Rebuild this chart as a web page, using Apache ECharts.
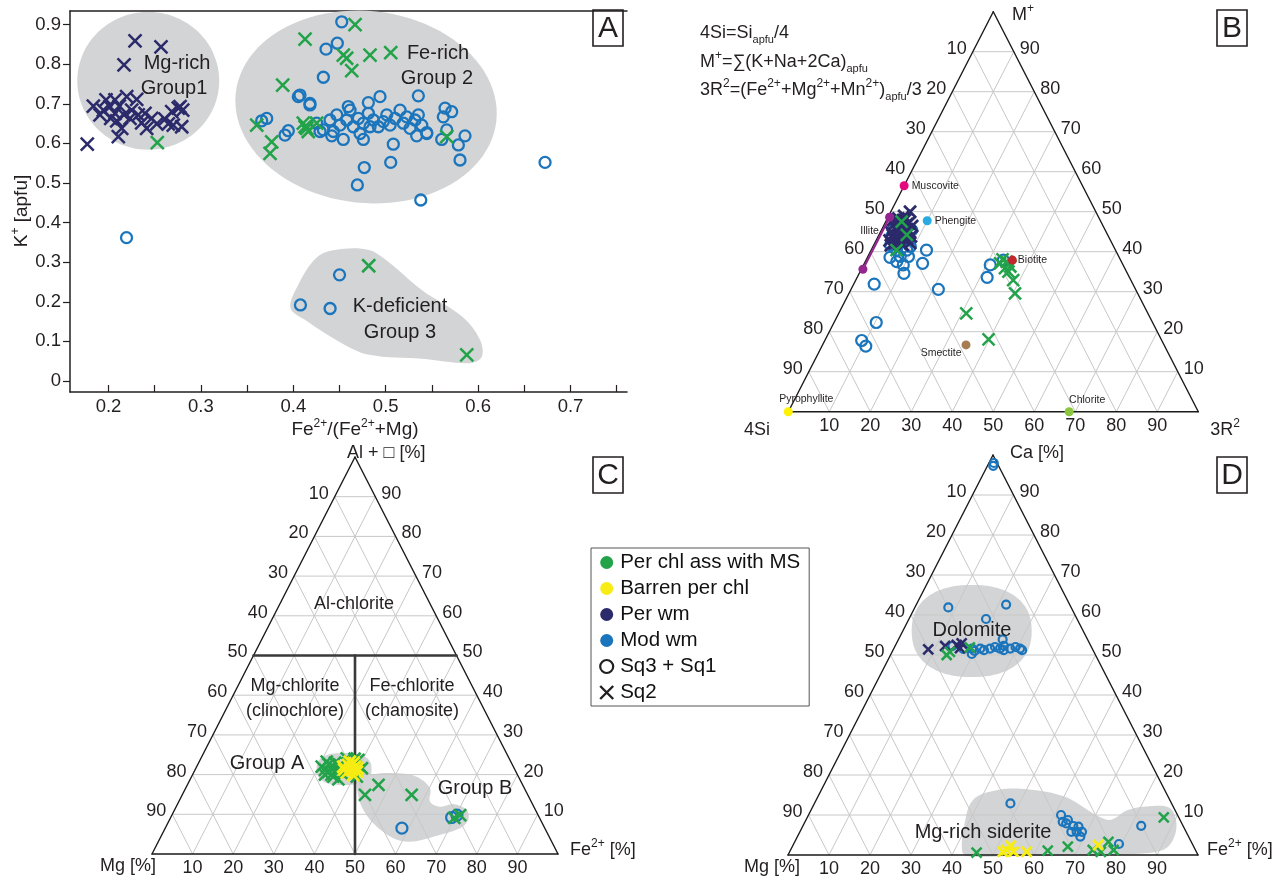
<!DOCTYPE html>
<html>
<head>
<meta charset="utf-8">
<script src="https://cdn.jsdelivr.net/npm/echarts@6/dist/echarts.min.js"></script>
<style>
  html, body { margin: 0; padding: 0; background: #ffffff; }
  #chart { width: 1279px; height: 881px; }
</style>
</head>
<body>
<div id="chart"></div>
<script>
// ---------------- Panel A: K+ [apfu] vs Fe2+/(Fe2+ + Mg) ----------------
const aXTicks  = [0.2, 0.25, 0.3, 0.35, 0.4, 0.45, 0.5, 0.55, 0.6, 0.65, 0.7, 0.75];
const aXLabels = [0.2, 0.3, 0.4, 0.5, 0.6, 0.7];
const aYTicks  = [0, 0.1, 0.2, 0.3, 0.4, 0.5, 0.6, 0.7, 0.8, 0.9];

// Per wm, Sq2
const aPerWmSq2 = [
  [0.2287,0.859],[0.2568,0.844],[0.2168,0.798],[0.177,0.598],[0.1836,0.694],[0.1908,0.672],
  [0.1973,0.710],[0.2016,0.693],[0.207,0.676],[0.2117,0.694],[0.2197,0.718],[0.2089,0.657],
  [0.2143,0.638],[0.2106,0.617],[0.2251,0.684],[0.2305,0.711],[0.2359,0.652],[0.2395,0.676],
  [0.2413,0.638],[0.2522,0.649],[0.2611,0.661],[0.2684,0.680],[0.2755,0.689],[0.2803,0.684],
  [0.2701,0.646],[0.2792,0.642],[0.1944,0.684],[0.2024,0.663],[0.207,0.710],[0.2168,0.672],
  [0.2467,0.663],[0.2647,0.649],[0.2233,0.663],[0.2322,0.672],[0.2774,0.693]
];
// Per chl ass with MS, Sq2
const aChlMsSq2 = [
  [0.2528,0.602],[0.4668,0.900],[0.4127,0.863],[0.4541,0.823],[0.4577,0.815],[0.483,0.823],
  [0.5054,0.829],[0.4632,0.784],[0.566,0.617],[0.3885,0.747],[0.3604,0.646],[0.3766,0.604],
  [0.3748,0.575],[0.4127,0.642],[0.4162,0.630],[0.4108,0.651],[0.4145,0.638],[0.4253,0.651],
  [0.4816,0.291],[0.5877,0.066]
];
// Mod wm, Sq3 + Sq1
const aModWmSq13 = [
  [0.4524,0.907],[0.4354,0.838],[0.4476,0.853],[0.4325,0.767],[0.5353,0.720],[0.4938,0.718],
  [0.4812,0.703],[0.418,0.701],[0.4072,0.722],[0.4595,0.693],[0.5642,0.689],[0.5714,0.680],
  [0.5623,0.667],[0.5155,0.684],[0.5353,0.672],[0.5858,0.619],[0.5786,0.596],[0.5804,0.558],
  [0.5606,0.610],[0.566,0.634],[0.5444,0.627],[0.5335,0.619],[0.5082,0.598],[0.5054,0.552],
  [0.4768,0.539],[0.4693,0.495],[0.5379,0.457],[0.6724,0.552],[0.4758,0.610],[0.4541,0.610],
  [0.4416,0.619],[0.4253,0.651],[0.4325,0.634],[0.4397,0.659],[0.447,0.672],[0.4505,0.646],
  [0.4578,0.659],[0.4649,0.642],[0.4704,0.663],[0.4758,0.651],[0.4812,0.676],[0.4866,0.659],
  [0.492,0.642],[0.4974,0.655],[0.5047,0.646],[0.5101,0.663],[0.519,0.651],[0.5263,0.638],
  [0.5317,0.659],[0.539,0.646],[0.5444,0.625],[0.4289,0.630],[0.4433,0.630],[0.4722,0.625],
  [0.4614,0.684],[0.483,0.642],[0.5011,0.672],[0.5227,0.667],[0.3712,0.663],[0.3658,0.657],
  [0.4054,0.718],[0.418,0.697],[0.3946,0.632],[0.391,0.621],
  [0.2195,0.362],[0.450,0.268],[0.4077,0.192],[0.4398,0.183]
];
// Group fields: ellipse = [cx, cy, rx, ry] in axis units; outline = polygon in axis units
const aGroup1Ellipse = [0.243, 0.758, 0.0768, 0.174];
const aGroup2Ellipse = [0.4787, 0.692, 0.1418, 0.2424];
const aGroup3Outline = [
  [0.397,0.184],[0.404,0.237],[0.426,0.313],[0.452,0.333],[0.482,0.331],[0.500,0.306],
  [0.539,0.230],[0.583,0.162],[0.602,0.104],[0.604,0.061],[0.591,0.045],[0.539,0.056],
  [0.482,0.066],[0.452,0.096],[0.413,0.154]
];

// ---------------- Ternary panels: points are [right-vertex %, top-vertex %] ----------------
const ternTicks = [10, 20, 30, 40, 50, 60, 70, 80, 90];

// Panel B: 4Si - M+ - 3R2   ([3R2 %, M+ %])
const bModWmSq13 = [
  [3.3,43.8],[4.1,41.7],[5.5,38.6],[7.7,37.5],[9.7,36.7],[10.9,34.6],[9.9,38.8],[9.1,41.3],
  [7.4,45.4],[13.5,40.4],[14.2,37.1],[5.0,31.9],[21.3,30.6],[10.3,22.3],[9.0,17.8],[10.7,16.4],
  [30.9,36.7],[31.7,33.6],[33.5,37.9],[6.2,40.4],[7.9,38.8],[6.6,42.9],[8.7,40.4],[2.9,45.4]
];
const bPerWmSq2 = [
  [1.6,47.9],[3.5,47.4],[5.5,46.9],[3.1,45.9],[5.3,45.4],[7.2,44.9],[3.4,44.2],[5.4,43.7],
  [7.4,43.2],[4.9,42.2],[7.1,41.7],[8.6,42.2],[3.6,46.4],[6.3,44.4],[5.0,42.9],[7.0,46.4],
  [4.7,50.0],[3.8,48.9],[2.4,46.8],[4.4,46.1],[6.2,45.6],[2.6,44.9],[4.4,44.9],[6.4,43.3],
  [4.0,43.4],[6.1,42.3],[3.3,42.8],[5.9,47.3],[4.5,47.9],[2.7,48.3],[8.0,43.8],[4.2,41.6]
];
const bChlMsSq2 = [
  [6.2,40.4],[6.8,44.2],[3.9,47.5],[33.1,37.1],[34.9,35.9],[36.2,35.0],[38.4,32.9],[40.5,29.6],
  [36.0,36.3],[33.2,38.1],[34.5,37.5],[31.1,24.6],[39.8,18.1]
];
const bMineralNames  = ['Muscovite', 'Phengite', 'Biotite', 'Smectite', 'Pyrophyllite', 'Chlorite'];
const bMineralValues = [[0,56.5],[10.0,47.75],[35.7,37.9],[35.0,16.7],[0,0],[68.5,0]];
const bIlliteRange   = [[0.4,48.6],[0.4,35.6]];

// Panel C: Mg - Al+vacancy - Fe2+   ([Fe2+ %, Al %])
const cChlMsSq2 = [
  [30.8,22.0],[31.4,23.25],[33.1,20.7],[33.3,22.0],[34.9,19.5],[34.9,21.2],[35.1,22.4],[36.6,20.3],
  [35.9,24.1],[39.0,23.7],[40.9,21.6],[40.7,19.5],[32.0,21.2],[33.6,23.0],[36.5,18.8],
  [32.2,22.6],[34.0,21.6],[35.6,20.9],[34.2,20.0],[36.8,22.8],[32.6,20.0],[37.9,24.0],
  [45.0,14.9],[47.1,17.4],[56.5,14.9],[71.0,9.8],[69.9,9.1]
];
const cBarrenSq2 = [
  [36.1,22.0],[37.1,22.4],[38.6,21.2],[39.0,22.0],[37.7,20.5],[40.1,20.7],[37.1,23.25],[39.6,19.9],
  [38.2,22.9],[36.7,21.3],[39.8,21.6]
];
const cModWmSq13 = [[58.3,6.5],[69.2,9.2],[70.2,9.8]];
const cGroupAEllipse = [36.6, 21.4, 0.0677, 0.0403];
const cGroupBOutline = [
  [41.5,18.64],[44.46,20.08],[50.1,20.33],[55.47,19.47],[60.2,16.55],[61.9,13.17],[65.0,11.91],
  [67.9,12.59],[71.97,11.08],[73.6,8.56],[72.63,6.47],[67.1,4.36],[62.0,3.1],[57.46,3.95],
  [50.64,7.73],[45.7,11.91],[42.5,16.12]
];

// Panel D: Mg - Ca - Fe2+   ([Fe2+ %, Ca %])
const dModWmSq13 = [
  [1.4,97.3],[1.2,98.0],
  [8.15,61.9],[21.9,62.6],[18.8,59.0],[25.4,53.9],[19.1,51.6],[21.1,51.6],[23.5,51.6],[25.9,51.6],
  [28.4,51.6],[30.8,51.6],[14.0,52.25],[19.7,50.25],[20.0,51.0],[22.2,51.2],[24.5,52.0],[27.0,51.2],
  [29.5,52.0],[31.5,51.2],[26.5,52.3],[17.0,51.5],
  [47.8,12.9],[61.6,10.0],[62.85,8.3],[63.9,8.75],[65.96,7.25],[67.5,5.8],[69.0,4.6],[67.3,7.1],
  [66.2,5.8],[68.8,5.8],[63.9,7.9],[79.35,2.75],[82.5,7.3]
];
const dPerWmSq2 = [[8.5,51.4],[12.2,52.25],[14.9,52.5],[16.1,51.7],[15.9,52.9]];
const dChlMsSq2 = [
  [13.7,50.0],[18.4,51.9],[14.1,50.8],
  [45.7,0.6],[62.8,1.1],[67.2,2.1],[73.7,1.25],[75.9,0.8],[76.5,3.3],[78.8,1.25],[86.95,9.4]
];
const dBarrenSq2 = [[52.6,1.25],[53.2,2.3],[52.0,0.8],[57.8,0.8],[74.4,2.5],[54.6,0.8]];
const dDolomiteEllipse = [16.8, 56.0, 0.1463, 0.115];
const dSideriteOutline = [
  [42.1,0.8],[39.4,7.08],[38.24,13.75],[43.0,16.25],[50.66,16.4],[60.14,14.6],[70.17,10.0],
  [74.24,8.75],[77.27,11.25],[82.78,12.25],[87.36,11.68],[90.78,7.93],[92.02,3.75],[90.83,1.25],
  [84.5,0.25],[68.3,-0.2],[54.56,-0.3],[44.24,-0.3]
];

const legendNames = ['Per chl ass with MS', 'Barren per chl', 'Per wm', 'Mod wm', 'Sq3 + Sq1', 'Sq2'];

// ---------------- styling ----------------
const FONT = '"Liberation Sans", Arial, "DejaVu Sans", sans-serif';
const INK = '#231f20';
const COL = {
  chlMs: '#22a34a', barren: '#f7ec13', perWm: '#2b2a6b', modWm: '#1b75bc',
  blob: '#d3d4d5', grid: '#c8c8c8', edge: '#1a1a1a', divider: '#3a3a3a'
};
const MINERAL_COLORS = ['#e5097f', '#29abe2', '#c1272d', '#a67c52', '#fff200', '#8cc63f'];
const CROSS = 'path://M0,0L10,10M10,0L0,10';
const AX = { A: {x: 0, y: 0}, B: {x: 2, y: 1}, C: {x: 3, y: 2}, D: {x: 4, y: 3} };

// ternary composition -> plane of the hidden unit axes
function tern(p) { const r = p[0] / 100, t = p[1] / 100; return [r + t / 2, t]; }
const ident = p => p;

function segSeries(ax, segs, stroke, width, z) {
  return {
    type: 'custom', xAxisIndex: ax.x, yAxisIndex: ax.y, silent: true, z: z, clip: false,
    data: segs,
    renderItem: (params, api) => {
      const a = api.coord([api.value(0), api.value(1)]);
      const b = api.coord([api.value(2), api.value(3)]);
      return { type: 'line', shape: { x1: a[0], y1: a[1], x2: b[0], y2: b[1] },
               style: { stroke: stroke, lineWidth: width, lineCap: 'round' } };
    }
  };
}

function textSeries(ax, points, texts, dx, dy, size) {
  return {
    type: 'custom', xAxisIndex: ax.x, yAxisIndex: ax.y, silent: true, z: 4, clip: false,
    data: points,
    renderItem: (params, api) => {
      const p = api.coord([api.value(0), api.value(1)]);
      return { type: 'text', x: p[0] + dx, y: p[1] + dy,
               style: { text: String(texts[params.dataIndex]), fill: INK, fontSize: size,
                        fontFamily: FONT, align: 'center', verticalAlign: 'middle' } };
    }
  };
}

function ternFrame(ax) {
  const grid = [];
  ternTicks.forEach(v => {
    grid.push([...tern([0, v]), ...tern([100 - v, v])]);
    grid.push([...tern([v, 0]), ...tern([v, 100 - v])]);
    grid.push([...tern([100 - v, 0]), ...tern([0, 100 - v])]);
  });
  const edges = [
    [...tern([0, 0]), ...tern([100, 0])],
    [...tern([100, 0]), ...tern([0, 100])],
    [...tern([0, 100]), ...tern([0, 0])]
  ];
  return [
    segSeries(ax, grid, COL.grid, 1, 2),
    segSeries(ax, edges, COL.edge, 1.4, 3),
    textSeries(ax, ternTicks.map(v => tern([0, 100 - v])), ternTicks, -16, -3, 18),
    textSeries(ax, ternTicks.map(v => tern([100 - v, v])), ternTicks, 16, -3, 18),
    textSeries(ax, ternTicks.map(v => tern([v, 0])), ternTicks, 0, 14, 18)
  ];
}

function outlineSeries(ax, outline, toPlane, smooth) {
  return {
    type: 'custom', xAxisIndex: ax.x, yAxisIndex: ax.y, silent: true, z: 1, clip: false,
    data: [toPlane(outline[0])],
    renderItem: (params, api) => ({
      type: 'polygon',
      shape: { points: outline.map(p => api.coord(toPlane(p))), smooth: smooth },
      style: { fill: COL.blob }
    })
  };
}

function ellipseSeries(ax, e, toPlane, rotDeg, power) {
  return {
    type: 'custom', xAxisIndex: ax.x, yAxisIndex: ax.y, silent: true, z: 1, clip: false,
    data: [toPlane([e[0], e[1]])],
    renderItem: (params, api) => {
      const c = api.coord(toPlane([e[0], e[1]]));
      const s = api.size([e[2], e[3]]);
      const th = rotDeg * Math.PI / 180, pts = [];
      for (let i = 0; i < 96; i++) {
        const f = i / 96 * 2 * Math.PI;
        const cf = Math.cos(f), sf = Math.sin(f);
        const ex = s[0] * Math.sign(cf) * Math.pow(Math.abs(cf), 2 / power);
        const ey = s[1] * Math.sign(sf) * Math.pow(Math.abs(sf), 2 / power);
        pts.push([c[0] + ex * Math.cos(th) - ey * Math.sin(th), c[1] + ex * Math.sin(th) + ey * Math.cos(th)]);
      }
      return { type: 'polygon', shape: { points: pts }, style: { fill: COL.blob } };
    }
  };
}

function marks(ax, name, data, toPlane, kind, color, size, lw, z) {
  return {
    type: 'scatter', name: name, xAxisIndex: ax.x, yAxisIndex: ax.y, silent: true, z: z || 5,
    data: data.map(toPlane),
    symbol: kind === 'x' ? CROSS : 'circle',
    symbolSize: size,
    itemStyle: { color: 'rgba(0,0,0,0)', borderColor: color, borderWidth: lw, opacity: 1 },
    emphasis: { disabled: true }
  };
}

// ---------------- text helpers (graphic) ----------------
const rich = {
  sup: { fontSize: 12, fontFamily: FONT, fill: INK, lineHeight: 12, verticalAlign: 'top' },
  sub: { fontSize: 11, fontFamily: FONT, fill: INK, lineHeight: 10, verticalAlign: 'bottom' }
};
function label(text, x, y, size, align, rot) {
  return {
    type: 'text', x: x, y: y, rotation: rot || 0, silent: true, z: 10,
    style: { text: text, fill: INK, fontSize: size, fontFamily: FONT, lineHeight: 24,
             align: align || 'center', verticalAlign: 'middle', rich: rich }
  };
}
function letterBox(ch, x, y) {
  return {
    type: 'group', x: x, y: y, silent: true, z: 10,
    children: [
      { type: 'rect', shape: { x: 0, y: 0, width: 30, height: 36 },
        style: { fill: '#ffffff', stroke: INK, lineWidth: 1.6 } },
      { type: 'text', x: 15, y: 19,
        style: { text: ch, fill: INK, fontSize: 30, fontFamily: FONT, align: 'center', verticalAlign: 'middle' } }
    ]
  };
}

// ---------------- assemble ----------------
const series = [];

// Panel A
series.push(ellipseSeries(AX.A, aGroup1Ellipse, ident, 0, 2));
series.push(ellipseSeries(AX.A, aGroup2Ellipse, ident, 6, 2));
series.push(outlineSeries(AX.A, aGroup3Outline, ident, 0.35));
series.push(marks(AX.A, 'A Mod wm Sq3+Sq1', aModWmSq13, ident, 'o', COL.modWm, 11, 2.3));
series.push(marks(AX.A, 'A Per wm Sq2', aPerWmSq2, ident, 'x', COL.perWm, 13, 2.5));
series.push(marks(AX.A, 'A Per chl MS Sq2', aChlMsSq2, ident, 'x', COL.chlMs, 13, 2.5));

// Panel B
series.push(...ternFrame(AX.B));
series.push(marks(AX.B, 'B Mod wm Sq3+Sq1', bModWmSq13, tern, 'o', COL.modWm, 11, 2.2));
series.push(marks(AX.B, 'B Per wm Sq2', bPerWmSq2, tern, 'x', COL.perWm, 12, 2.8));
series.push(marks(AX.B, 'B Per chl MS Sq2', bChlMsSq2, tern, 'x', COL.chlMs, 12, 2.5));
series.push({
  type: 'line', xAxisIndex: AX.B.x, yAxisIndex: AX.B.y, silent: true, z: 6,
  data: bIlliteRange.map(tern), symbol: 'circle', symbolSize: 9,
  lineStyle: { color: '#93278f', width: 2.2 }, itemStyle: { color: '#93278f', opacity: 1 },
  label: { show: false }
});
const mineralLabel = [
  { position: 'right', distance: 3 },
  { position: 'right', distance: 3 },
  { position: 'right', distance: 1 },
  { position: 'left', distance: 0, offset: [0, 8] },
  { position: 'top', distance: 3, offset: [18, 0] },
  { position: 'top', distance: 2, offset: [18, 0] }
];
series.push({
  type: 'scatter', xAxisIndex: AX.B.x, yAxisIndex: AX.B.y, silent: true, z: 7,
  symbol: 'circle', symbolSize: 9,
  data: bMineralValues.map((v, i) => ({
    value: tern(v), name: bMineralNames[i],
    itemStyle: { color: MINERAL_COLORS[i], opacity: 1 },
    label: Object.assign({ show: true, formatter: '{b}', color: INK, fontSize: 10.5, fontFamily: FONT }, mineralLabel[i])
  }))
});
series.push(textSeries(AX.B, [tern(bIlliteRange[0])], ['Illite'], -20, 14, 10.5));

// Panel C
series.push(ellipseSeries(AX.C, cGroupAEllipse, tern, 0, 2.6));
series.push(outlineSeries(AX.C, cGroupBOutline, tern, 0.35));
series.push(...ternFrame(AX.C));
series.push(segSeries(AX.C, [[...tern([0, 50]), ...tern([50, 50])], [...tern([50, 0]), ...tern([25, 50])]], COL.divider, 2.6, 3));
series.push(marks(AX.C, 'C Mod wm Sq3+Sq1', cModWmSq13, tern, 'o', COL.modWm, 11, 2.2));
series.push(marks(AX.C, 'C Per chl MS Sq2', cChlMsSq2, tern, 'x', COL.chlMs, 12, 2.6));
series.push(marks(AX.C, 'C Barren Sq2', cBarrenSq2, tern, 'x', COL.barren, 12, 2.8));

// Panel D
series.push(ellipseSeries(AX.D, dDolomiteEllipse, tern, 0, 2.3));
series.push(outlineSeries(AX.D, dSideriteOutline, tern, 0.35));
series.push(...ternFrame(AX.D));
series.push(marks(AX.D, 'D Mod wm Sq3+Sq1', dModWmSq13, tern, 'o', COL.modWm, 8, 2.2));
series.push(marks(AX.D, 'D Per wm Sq2', dPerWmSq2, tern, 'x', COL.perWm, 10, 2.6));
series.push(marks(AX.D, 'D Per chl MS Sq2', dChlMsSq2, tern, 'x', COL.chlMs, 10, 2.5));
series.push(marks(AX.D, 'D Barren Sq2', dBarrenSq2, tern, 'x', COL.barren, 10, 2.8));

// legend entries
legendNames.forEach(n => series.push({ type: 'scatter', name: n, data: [], xAxisIndex: 0, yAxisIndex: 0, itemStyle: { opacity: 1 } }));

const hiddenAxis = gi => ({ gridIndex: gi, type: 'value', min: 0, max: 1, show: false });

const option = {
  animation: false,
  backgroundColor: '#ffffff',
  textStyle: { fontFamily: FONT },
  grid: [
    { left: 70, top: 11, width: 557, height: 381, outerBoundsMode: 'none' },
    { left: 788.3, top: 11.7, width: 410, height: 400, outerBoundsMode: 'none' },
    { left: 152, top: 457, width: 406, height: 397, outerBoundsMode: 'none' },
    { left: 788, top: 455, width: 410, height: 400, outerBoundsMode: 'none' }
  ],
  xAxis: [
    {
      gridIndex: 0, type: 'value', min: 0.15833, max: 0.7611,
      axisLine: { show: true, onZero: false, lineStyle: { color: INK, width: 1.5 } },
      axisTick: { show: true, inside: true, length: 7, customValues: aXTicks, lineStyle: { color: INK, width: 1.2 } },
      axisLabel: { customValues: aXLabels, formatter: v => v.toFixed(1), color: INK, fontSize: 18.5, fontFamily: FONT, margin: 5 },
      splitLine: { show: false }
    },
    {
      gridIndex: 0, type: 'value', position: 'top', min: 0.15833, max: 0.7611,
      axisLine: { show: true, onZero: false, lineStyle: { color: INK, width: 1.5 } },
      axisTick: { show: false }, axisLabel: { show: false }, splitLine: { show: false }
    },
    hiddenAxis(1), hiddenAxis(2), hiddenAxis(3)
  ],
  yAxis: [
    {
      gridIndex: 0, type: 'value', min: -0.0278, max: 0.9343,
      axisLine: { show: true, onZero: false, lineStyle: { color: INK, width: 1.5 } },
      axisTick: { show: true, inside: false, length: 7, customValues: aYTicks, lineStyle: { color: INK, width: 1.2 } },
      axisLabel: { customValues: aYTicks, formatter: v => (v === 0 ? '0' : v.toFixed(1)), color: INK, fontSize: 18.5, fontFamily: FONT, margin: 9 },
      splitLine: { show: false }
    },
    hiddenAxis(1), hiddenAxis(2), hiddenAxis(3)
  ],
  legend: {
    orient: 'vertical', left: 591, top: 548,
    padding: [4, 9, 3, 8], borderColor: '#555555', borderWidth: 1, backgroundColor: '#ffffff',
    itemWidth: 13, itemHeight: 13, itemGap: 5, selectedMode: false,
    textStyle: { color: '#111111', fontSize: 20.5, fontFamily: FONT, lineHeight: 20, padding: [0, 0, 0, 2] },
    data: [
      { name: legendNames[0], icon: 'circle', itemStyle: { color: COL.chlMs, borderWidth: 0, opacity: 1 } },
      { name: legendNames[1], icon: 'circle', itemStyle: { color: COL.barren, borderWidth: 0, opacity: 1 } },
      { name: legendNames[2], icon: 'circle', itemStyle: { color: COL.perWm, borderWidth: 0, opacity: 1 } },
      { name: legendNames[3], icon: 'circle', itemStyle: { color: COL.modWm, borderWidth: 0, opacity: 1 } },
      { name: legendNames[4], icon: 'circle', itemStyle: { color: 'rgba(0,0,0,0)', borderColor: INK, borderWidth: 2.2, opacity: 1 } },
      { name: legendNames[5], icon: CROSS, itemStyle: { color: 'rgba(0,0,0,0)', borderColor: INK, borderWidth: 2.4, opacity: 1 } }
    ]
  },
  graphic: [
    // Panel A
    letterBox('A', 593, 10),
    label('Mg-rich', 177, 63, 20),
    label('Group1', 174, 88, 20),
    label('Fe-rich', 438, 53, 20),
    label('Group 2', 437, 78, 20),
    label('K-deficient', 400, 306, 20),
    label('Group 3', 400, 332, 20),
    label('K{sup|+} [apfu]', 22, 211, 19, 'center', Math.PI / 2),
    label('Fe{sup|2+}/(Fe{sup|2+}+Mg)', 355, 430, 19),
    // Panel B
    letterBox('B', 1217, 10),
    label('4Si=Si{sub|apfu}/4', 700, 33, 18, 'left'),
    label('M{sup|+}=∑(K+Na+2Ca){sub|apfu}', 700, 62, 18, 'left'),
    label('3R{sup|2}=(Fe{sup|2+}+Mg{sup|2+}+Mn{sup|2+}){sub|apfu}/3', 700, 90, 18, 'left'),
    label('M{sup|+}', 1023, 15, 18),
    label('4Si', 757, 430, 18),
    label('3R{sup|2}', 1225, 430, 18),
    // Panel C
    letterBox('C', 593, 457),
    label('Al + □ [%]', 347, 453, 18, 'left'),
    label('Mg [%]', 128, 866, 18),
    label('Fe{sup|2+} [%]', 570, 850, 18, 'left'),
    label('Al-chlorite', 354, 604, 18),
    label('Mg-chlorite', 295, 686, 18),
    label('(clinochlore)', 295, 711, 18),
    label('Fe-chlorite', 412, 686, 18),
    label('(chamosite)', 412, 711, 18),
    label('Group A', 267, 763, 20),
    label('Group B', 475, 788, 20),
    // Panel D
    letterBox('D', 1217, 457),
    label('Ca [%]', 1010, 453, 18, 'left'),
    label('Mg [%]', 772, 867, 18),
    label('Fe{sup|2+} [%]', 1207, 850, 18, 'left'),
    label('Dolomite', 972, 630, 20),
    label('Mg-rich siderite', 983, 832, 20)
  ],
  series: series
};

const chart = echarts.init(document.getElementById('chart'), null, { renderer: 'canvas' });
chart.setOption(option);
</script>
</body>
</html>
